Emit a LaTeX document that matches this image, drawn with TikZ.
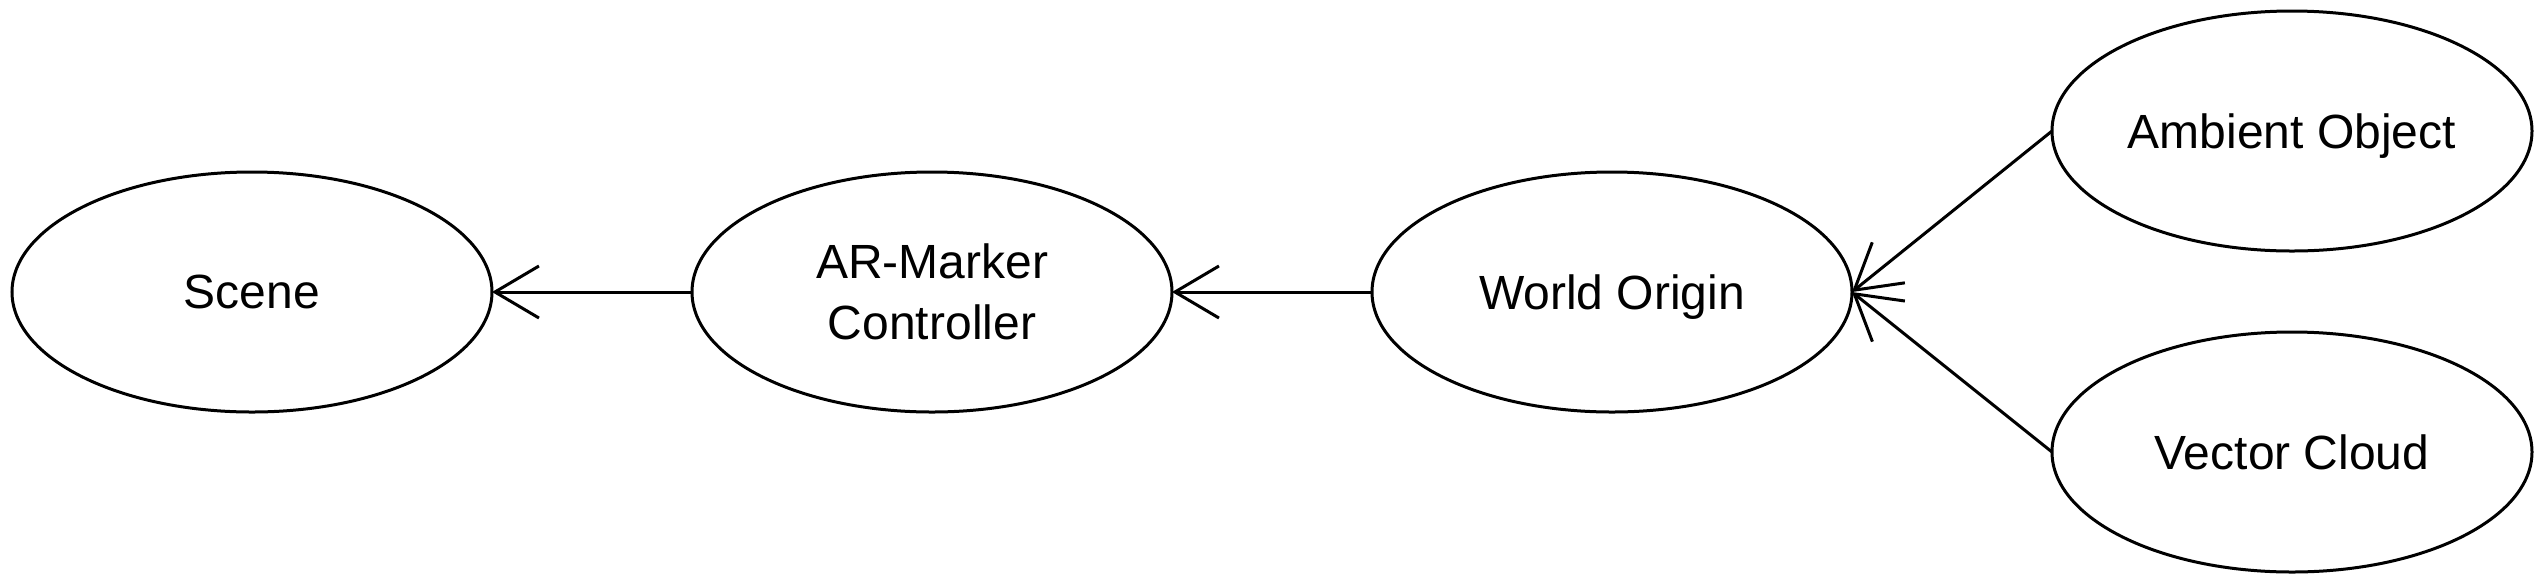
\documentclass[tikz,border=0pt]{standalone}
\usepackage{fontspec}
\setmainfont{Liberation Sans}
\usetikzlibrary{shapes.geometric,arrows.meta}
\begin{document}
\begin{tikzpicture}[x=0.5pt,y=-0.5pt,
  ent/.style={draw,ellipse,line width=1.5pt,minimum width=240pt,minimum height=120pt,inner sep=0pt,outer sep=0pt,text depth=0pt,align=center,font=\fontsize{24pt}{30.5pt}\selectfont},
  conn/.style={line width=1.5pt,-{Straight Barb[length=22pt,width=26pt,line width=1.5pt]}}]
\useasboundingbox (0,0) rectangle (2540,580);
\node[ent] (scene) at (252,292) {Scene};
\node[ent] (ar) at (932,292) {AR-Marker\\Controller};
\node[ent] (world) at (1612,292) {World Origin};
\node[ent] (amb) at (2292,131) {Ambient Object};
\node[ent] (vec) at (2292,452) {Vector Cloud};
\draw[conn] (ar.west) -- (scene.east);
\draw[conn] (world.west) -- (ar.east);
\draw[conn] (amb.west) -- (world.east);
\draw[conn] (vec.west) -- (world.east);
\end{tikzpicture}
\end{document}
